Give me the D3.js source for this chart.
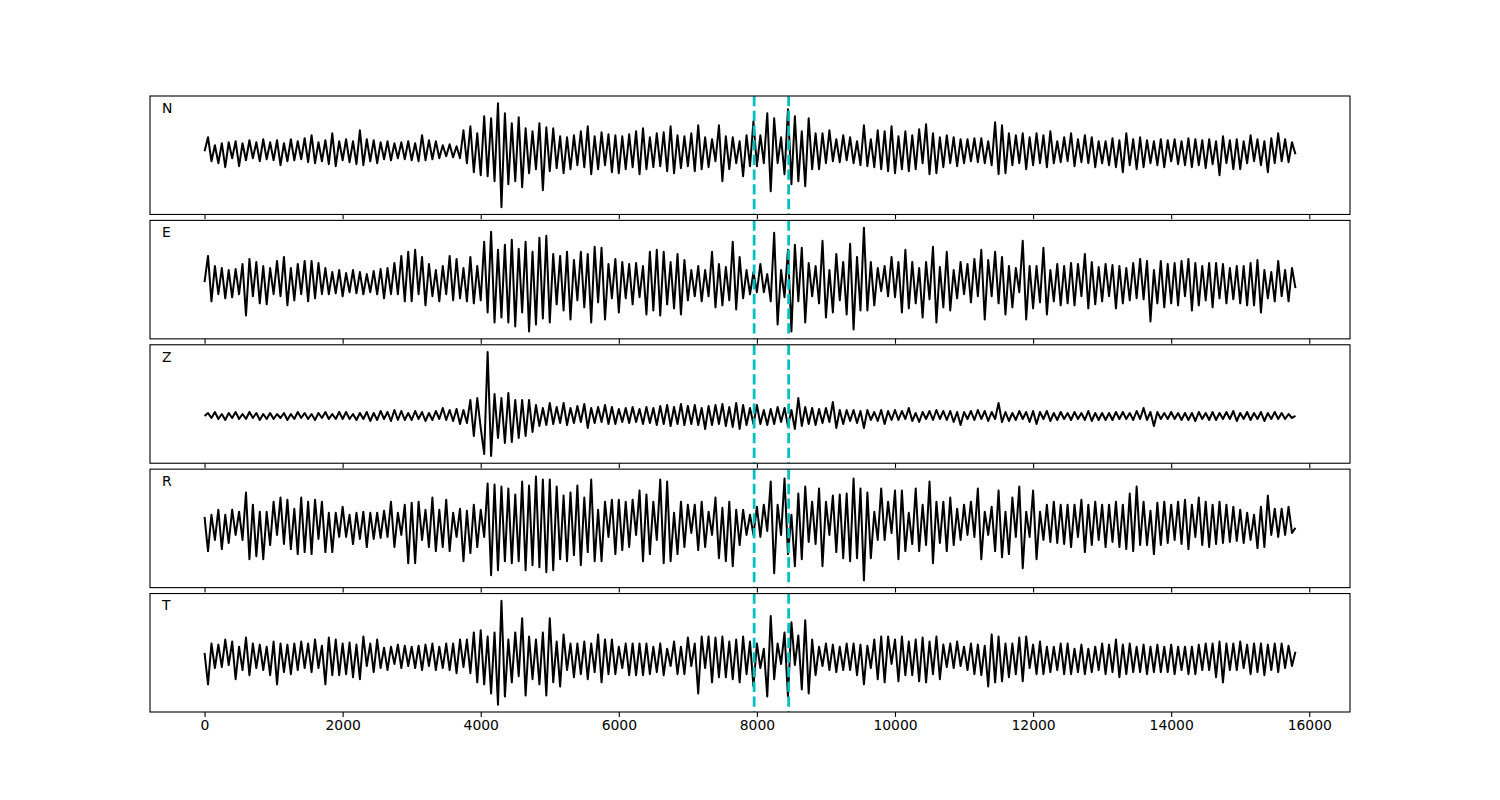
<!DOCTYPE html>
<html><head><meta charset="utf-8">
<script src="https://cdn.jsdelivr.net/npm/d3@7"></script>
<style>body{margin:0;background:#fff}svg{display:block}text{font-family:"DejaVu Sans",sans-serif}</style>
</head><body><svg id="chart" width="1500" height="800"></svg>
<script>
// ---- data ----
const componentNames = ["N", "E", "Z", "R", "T"];
const sampleStep = 50;            // sample spacing of the traces below
const pickTimes = [7960, 8460];   // dashed cyan markers
const xTickValues = [0, 2000, 4000, 6000, 8000, 10000, 12000, 14000, 16000];

const traceN = [
 0,14,-10,6,-12,8,-16,9,-7,10,-15,8,-9,11,-7,9,-10,12,-8,9,
 -9,11,-14,8,-10,12,-9,10,-8,13,-11,16,-12,9,-10,11,-13,18,-15,10,
 -9,12,-11,10,-13,21,-14,12,-10,11,-12,9,-8,10,-9,8,-7,9,-8,10,
 -9,8,-10,16,-9,11,-8,10,-7,6,-5,7,-6,5,-7,21,-12,25,-21,18,
 -24,35,-25,33,-30,48,-56,38,-33,28,-30,34,-36,23,-22,20,-18,28,-39,24,
 -20,23,-17,15,-22,14,-18,16,-14,20,-16,25,-23,15,-18,19,-14,17,-21,16,
 -22,15,-18,17,-16,20,-23,23,-18,14,-16,18,-15,19,-20,25,-22,16,-17,15,
 -15,18,-20,26,-18,14,-16,12,-10,26,-30,15,-18,14,-12,10,-25,16,-15,30,
 -15,16,-12,38,-40,33,-12,14,-23,42,-33,35,-30,20,-35,33,-18,18,-18,18,
 -12,21,-10,12,-11,16,-9,14,-12,10,-14,26,-15,12,-16,21,-18,20,-20,25,
 -22,15,-18,20,-20,16,-18,22,-12,27,-23,18,-22,14,-16,16,-12,14,-15,12,
 -12,12,-10,13,-11,13,-12,10,-14,29,-23,26,-22,18,-14,16,-12,18,-18,14,
 -14,18,-12,16,-16,20,-12,10,-11,14,-10,18,-15,12,-11,16,-12,14,-16,10,
 -12,10,-14,13,-16,11,-21,18,-14,12,-18,14,-16,11,-12,10,-14,12,-16,11,
 -10,12,-13,10,-14,13,-16,12,-14,11,-17,12,-13,10,-24,15,-12,11,-18,12,
 -18,10,-12,16,-10,12,-14,10,-21,13,-12,18,-10,12,-11,9,-3
];
const traceE = [
 0,26,-19,16,-12,14,-16,12,-15,13,-12,18,-33,23,-14,20,-21,16,-22,14,
 -12,21,-14,25,-23,14,-18,18,-12,21,-19,21,-16,19,-12,14,-12,10,-11,12,
 -14,9,-10,12,-11,10,-12,8,-10,11,-12,13,-16,14,-12,19,-12,26,-19,30,
 -19,32,-12,25,-23,18,-14,12,-19,16,-12,26,-18,23,-16,14,-19,25,-21,16,
 -18,40,-30,50,-40,32,-35,37,-40,42,-44,33,-30,40,-49,30,-42,44,-36,46,
 -40,28,-22,26,-28,30,-37,22,-18,30,-25,28,-40,35,-20,34,-37,18,-16,23,
 -30,20,-16,18,-22,19,-15,16,-32,30,-28,32,-33,30,-22,20,-26,28,-32,22,
 -18,12,-14,16,-19,12,-14,30,-25,18,-23,15,-18,40,-27,25,-16,12,-12,10,
 -10,18,-10,8,-19,49,-42,12,-15,32,-49,37,-19,34,-40,19,-14,16,-21,41,
 -35,12,-30,28,-18,20,-32,38,-47,25,-28,54,-28,20,-23,14,-9,16,-14,25,
 -15,20,-30,32,-26,20,-21,14,-35,20,-17,35,-40,15,-25,30,-28,12,-16,20,
 -12,18,-20,23,-14,32,-37,22,-14,30,-21,25,-32,16,-25,14,-10,41,-37,16,
 -26,16,-20,34,-32,12,-19,18,-23,16,-21,19,-23,18,-14,28,-26,20,-22,15,
 -19,18,-14,17,-26,16,-21,14,-18,19,-16,23,-17,21,-39,12,-21,21,-25,18,
 -21,19,-23,21,-14,23,-28,19,-23,16,-18,19,-25,19,-16,18,-21,14,-17,16,
 -21,16,-23,19,-23,22,-30,12,-16,10,-19,21,-14,12,-19,14,-6
];
const traceZ = [
 0,3,-2,4,-3,2,-4,3,-2,4,-3,2,-3,4,-2,3,-4,2,-3,3,
 -3,2,-2,3,-4,2,-3,4,-2,3,-3,2,-4,3,-2,4,-3,2,-3,4,
 -3,4,-3,2,-4,3,-3,4,-5,3,-4,5,-3,4,-5,6,-4,5,-4,3,
 -4,5,-3,4,-5,3,-4,5,-3,8,-4,6,-5,7,-8,6,-7,16,-20,18,
 -12,-38,64,-40,22,-22,18,-27,23,-26,16,-22,16,-20,16,-16,11,-10,8,-9,
 13,-8,9,-7,13,-9,8,-7,10,-6,12,-12,8,-7,9,-6,11,-8,9,-8,
 7,-6,8,-7,9,-6,7,-8,9,-7,8,-9,10,-8,11,-10,9,-8,12,-9,
 10,-8,11,-9,8,-13,10,-9,11,-8,12,-10,9,-11,13,-13,11,-9,8,-8,
 11,-8,6,-9,7,-8,9,-6,8,-10,6,-13,18,-10,9,-8,8,-9,7,-7,
 8,-6,14,-12,6,-8,6,-5,6,-7,5,-12,6,-4,4,-5,6,-8,5,-4,
 6,-4,5,-3,8,-5,3,-6,4,-3,5,-4,6,-3,5,-4,5,-6,4,-9,
 4,-3,5,-4,6,-3,5,-5,4,-3,13,-6,4,-5,3,-4,5,-3,4,-6,
 5,-8,4,-3,5,-5,3,-4,4,-3,3,-4,4,-3,3,-4,5,-5,3,-4,
 3,-4,3,-4,4,-3,4,-3,3,-4,5,-3,8,-4,4,-10,4,-3,3,-3,
 4,-3,3,-4,3,-4,3,-5,4,-3,3,-4,4,-4,3,-3,4,-3,5,-5,
 3,-3,4,-4,3,-3,4,-5,3,-3,4,-3,3,-3,2,-2,0
];
const traceR = [
 8,-26,10,-15,15,-24,10,-18,15,-10,13,-15,32,-34,20,-31,13,-34,13,-20,
 23,-10,27,-19,25,-24,16,-29,27,-27,23,-29,25,-14,23,-27,12,-27,12,-12,
 18,-12,10,-19,12,-14,13,-22,12,-14,12,-13,14,-12,23,-22,12,-10,20,-38,
 22,-38,23,-15,15,-22,27,-26,15,-22,25,-26,12,-12,16,-36,14,-28,20,-22,
 15,-12,41,-50,40,-45,38,-36,36,-38,30,-36,43,-45,39,-40,48,-42,45,-47,
 45,-45,38,-34,29,-36,32,-30,39,-40,27,-27,45,-36,15,-36,23,-12,25,-29,
 25,-25,23,-22,25,-10,34,-36,30,-29,23,-15,45,-38,43,-36,12,-29,23,-22,
 20,-8,20,-25,23,-22,13,-10,27,-33,17,-36,23,-41,15,-20,15,-10,10,-10,
 18,-12,20,-6,43,-48,20,-10,46,-29,10,-41,31,-34,38,-17,23,-19,36,-41,
 23,-10,29,-27,30,-33,31,-36,46,-33,36,-55,32,-33,13,-15,36,-15,23,-8,
 34,-34,34,-26,12,-19,36,-26,20,-20,43,-38,23,-18,23,-26,27,-20,16,-15,
 20,-10,23,-12,36,-34,13,-10,18,-26,34,-32,13,-29,27,-12,38,-43,13,-12,
 34,-34,13,-15,20,-17,23,-18,20,-19,20,-22,20,-12,25,-27,20,-20,23,-15,
 20,-22,20,-17,23,-22,20,-24,31,-26,38,-20,23,-20,14,-29,22,-20,23,-18,
 20,-15,23,-19,25,-24,20,-12,27,-20,23,-22,20,-19,23,-18,20,-17,18,-16,
 15,-18,12,-15,10,-23,18,-22,29,-10,16,-12,16,-10,18,-8,-3
];
const traceT = [
 3,-28,12,-12,11,-11,16,-9,14,-23,9,-14,18,-19,12,-12,11,-14,9,-19,
 14,-28,12,-16,11,-18,12,-14,14,-12,12,-16,16,-12,10,-28,18,-19,16,-19,
 12,-18,13,-21,11,-23,19,-10,12,-16,16,-12,8,-14,9,-8,11,-12,10,-10,
 9,-12,10,-14,11,-10,12,-14,9,-12,12,-14,12,-17,16,-11,16,-17,23,-26,
 25,-28,19,-37,23,-48,54,-40,16,-26,23,-20,37,-39,19,-23,16,-28,23,-39,
 37,-26,14,-30,21,-14,12,-21,12,-18,14,-23,12,-16,21,-26,16,-18,16,-18,
 9,-12,12,-19,12,-19,12,-19,12,-18,9,-16,12,-19,7,-10,14,-18,9,-18,
 18,-10,12,-37,19,-12,19,-26,18,-21,19,-21,14,-23,16,-26,19,-18,14,-30,
 12,-12,7,-40,39,-23,12,-8,23,-40,33,-9,20,-33,35,-37,16,-19,9,-10,
 12,-14,11,-16,9,-14,12,-14,12,-19,11,-28,10,-12,16,-23,19,-26,19,-8,
 16,-25,19,-19,14,-19,16,-25,18,-26,14,-18,19,-23,11,-11,12,-12,14,-10,
 9,-14,12,-18,11,-19,10,-30,21,-26,19,-25,12,-21,12,-18,18,-25,19,-12,
 11,-18,14,-18,9,-16,9,-14,12,-18,12,-18,7,-16,11,-18,7,-16,9,-14,
 12,-18,11,-16,16,-21,11,-18,12,-16,9,-16,11,-18,9,-16,11,-16,9,-16,
 11,-18,9,-14,9,-18,9,-18,11,-14,12,-14,12,-21,14,-26,12,-14,12,-14,
 14,-12,11,-18,12,-16,12,-19,11,-14,12,-16,12,-12,10,-10,4
];
const traces = [traceN, traceE, traceZ, traceR, traceT];

// ---- layout ----
const W = 1500, H = 800;
const plotL = 150, plotR = 1350, plotT = 96, plotB = 712;
const nP = componentNames.length, hspace = 0.05;
const ph = (plotB - plotT) / (nP + (nP - 1) * hspace);
const gap = ph * hspace;

const svg = d3.select("#chart");
svg.append("rect").attr("width", W).attr("height", H).attr("fill", "#fff");

const xMaxData = (traceN.length - 1) * sampleStep;
const xMargin = 0.05 * xMaxData;
const x = d3.scaleLinear().domain([-xMargin, xMaxData + xMargin]).range([plotL, plotR]);

traces.forEach((tr, k) => {
  const y0 = plotT + k * (ph + gap);
  const ext = d3.extent(tr);
  const pad = 0.07 * (ext[1] - ext[0]);
  const y = d3.scaleLinear().domain([ext[0] - pad, ext[1] + pad]).range([y0 + ph, y0]);
  const g = svg.append("g");

  const line = d3.line().x((d, i) => x(i * sampleStep)).y(d => y(d));
  g.append("path").datum(tr).attr("d", line)
    .attr("fill", "none").attr("stroke", "#000").attr("stroke-width", 2)
    .attr("stroke-linejoin", "round");

  pickTimes.forEach(t => {
    g.append("line").attr("x1", x(t)).attr("x2", x(t))
      .attr("y1", y0).attr("y2", y0 + ph)
      .attr("stroke", "#00bfbf").attr("stroke-width", 2.78)
      .attr("stroke-dasharray", "10.3,4.4");
  });

  g.append("rect").attr("x", plotL).attr("y", y0).attr("width", plotR - plotL).attr("height", ph)
    .attr("fill", "none").attr("stroke", "#000").attr("stroke-width", 1.1);

  const axis = d3.axisBottom(x).tickValues(xTickValues).tickSize(4.9).tickPadding(3.5)
    .tickFormat(k < nP - 1 ? "" : d3.format("d"));
  const ag = g.append("g").attr("transform", `translate(0,${y0 + ph})`).call(axis);
  ag.select(".domain").remove();
  ag.selectAll(".tick line").attr("stroke", "#000").attr("stroke-width", 1.1);
  ag.selectAll(".tick text").attr("fill", "#000").style("font-size", "13.9px")
    .style("font-family", '"DejaVu Sans", sans-serif');

  g.append("text").attr("x", plotL + 0.01 * (plotR - plotL)).attr("y", y0 + 0.1 * ph)
    .attr("dominant-baseline", "central").style("font-size", "13.9px").attr("fill", "#000")
    .text(componentNames[k]);
});
</script></body></html>
